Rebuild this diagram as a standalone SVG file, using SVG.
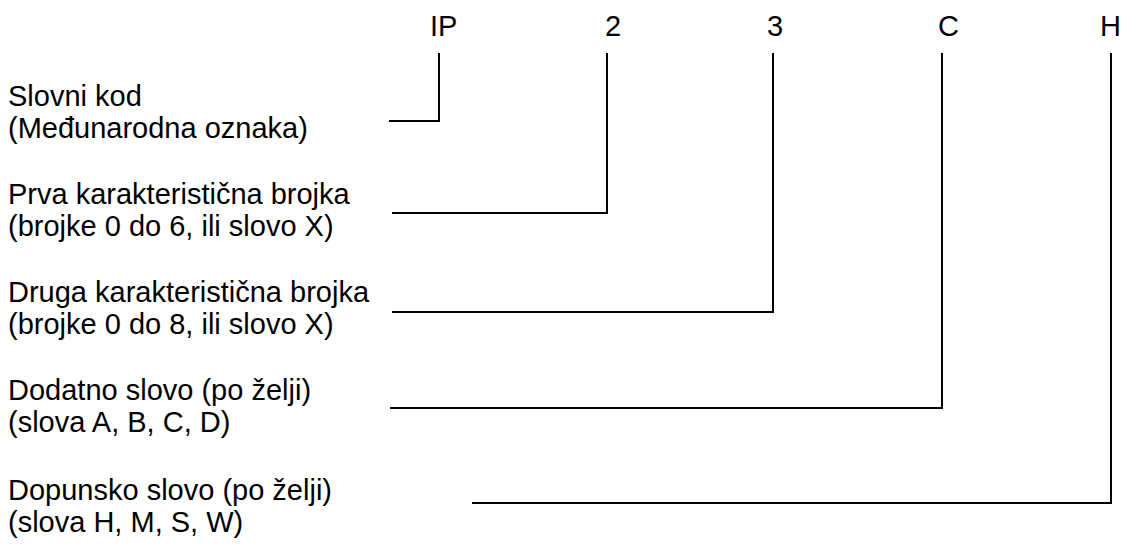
<svg xmlns="http://www.w3.org/2000/svg" width="1123" height="545" viewBox="0 0 1123 545">
<style>
text{font-family:"Liberation Sans",Arial,sans-serif;font-size:29px;fill:#000}
.c{fill:none;stroke:#000;stroke-width:2}
</style>
<rect width="1123" height="545" fill="#fff"/>
<g id="codes">
<text x="430" y="36">IP</text>
<text x="605" y="36">2</text>
<text x="767" y="36">3</text>
<text x="938" y="36">C</text>
<text x="1100" y="36">H</text>
</g>
<g id="n1"><text x="8" y="106">Slovni kod</text><text x="8" y="138">(Međunarodna oznaka)</text></g>
<g id="n2"><text x="8" y="204">Prva karakteristična brojka</text><text x="8" y="236">(brojke 0 do 6, ili slovo X)</text></g>
<g id="n3"><text x="8" y="302">Druga karakteristična brojka</text><text x="8" y="334">(brojke 0 do 8, ili slovo X)</text></g>
<g id="n4"><text x="8" y="400">Dodatno slovo (po želji)</text><text x="8" y="432">(slova A, B, C, D)</text></g>
<g id="n5"><text x="8" y="500">Dopunsko slovo (po želji)</text><text x="8" y="532">(slova H, M, S, W)</text></g>
<g id="connectors" class="c">
<polyline points="389,121 439,121 439,53"/>
<polyline points="392,213 607,213 607,53"/>
<polyline points="392,312 773,312 773,53"/>
<polyline points="390,408 942,408 942,53"/>
<polyline points="472,503 1111,503 1111,53"/>
</g>
</svg>
